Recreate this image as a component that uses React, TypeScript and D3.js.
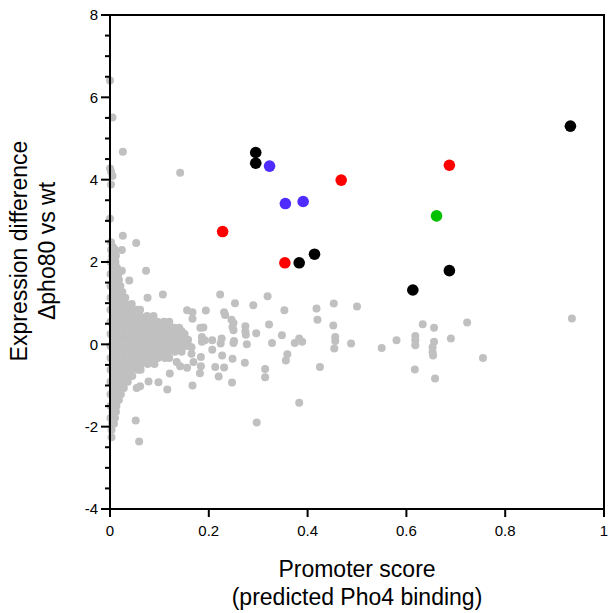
import React from "react";
import * as d3 from "d3";

// Axis ranges and tick values
const xDomain: [number, number] = [0, 1];
const yDomain: [number, number] = [-4, 8];
const xTicks = [0, 0.2, 0.4, 0.6, 0.8, 1];
const yMajorTicks = [-4, -2, 0, 2, 4, 6, 8];
const yMinorTicks = d3.range(-4, 8.001, 0.5);

// Axis titles
const yTitle = ["Expression difference", "\u0394pho80 vs wt"];
const xTitle = ["Promoter score", "(predicted Pho4 binding)"];

// Dense cluster of genes near zero promoter score, listed row by row: [y, x values]
const coreRows: [number, number[]][] = [
  [2.30, [0.002, 0.010]],
  [2.15, [0.004, 0.012]],
  [2.00, [0.001, 0.011]],
  [1.86, [0.005, 0.014]],
  [1.71, [0.001, 0.012, 0.017]],
  [1.57, [0.006, 0.018]],
  [1.42, [0.001, 0.012, 0.021]],
  [1.27, [0.006, 0.018, 0.025]],
  [1.13, [0.001, 0.013, 0.024, 0.031]],
  [0.98, [0.006, 0.019, 0.032, 0.044]],
  [0.84, [0.001, 0.013, 0.026, 0.040, 0.053, 0.061]],
  [0.69, [0.007, 0.020, 0.034, 0.047, 0.061, 0.075, 0.088]],
  [0.55, [0.001, 0.014, 0.028, 0.041, 0.055, 0.068, 0.082, 0.096, 0.109, 0.120]],
  [0.40, [0.007, 0.021, 0.034, 0.048, 0.062, 0.075, 0.089, 0.103, 0.116, 0.130, 0.140]],
  [0.25, [0.001, 0.014, 0.028, 0.042, 0.055, 0.069, 0.083, 0.096, 0.110, 0.124, 0.137, 0.151]],
  [0.11, [0.007, 0.021, 0.035, 0.048, 0.062, 0.076, 0.089, 0.103, 0.117, 0.131, 0.144, 0.158]],
  [-0.04, [0.001, 0.014, 0.028, 0.042, 0.055, 0.069, 0.083, 0.097, 0.110, 0.124, 0.138, 0.152, 0.160]],
  [-0.18, [0.007, 0.021, 0.035, 0.048, 0.062, 0.076, 0.090, 0.103, 0.117, 0.131, 0.145]],
  [-0.33, [0.001, 0.014, 0.028, 0.042, 0.056, 0.069, 0.083, 0.097, 0.111, 0.120]],
  [-0.48, [0.007, 0.021, 0.035, 0.049, 0.062, 0.076, 0.090]],
  [-0.62, [0.001, 0.014, 0.028, 0.042, 0.056, 0.062]],
  [-0.77, [0.007, 0.021, 0.035, 0.045]],
  [-0.91, [0.001, 0.014, 0.028, 0.036]],
  [-1.06, [0.007, 0.020, 0.028]],
  [-1.21, [0.001, 0.013, 0.022]],
  [-1.35, [0.006, 0.018]],
  [-1.50, [0.001, 0.013]],
  [-1.64, [0.005, 0.012]],
  [-1.79, [0.001, 0.010]],
  [-1.93, [0.004, 0.008]],
  [-2.08, [0.003]],
];

// Remaining genes: [promoter score, expression difference]
const otherGenes: [number, number][] = [
  [0.000, 6.41], [0.005, 5.51], [0.026, 4.68], [0.000, 4.27], [0.002, 4.20],
  [0.005, 4.09], [0.142, 4.17], [0.002, 3.88], [0.000, 3.05], [0.026, 2.64],
  [0.053, 2.46], [0.024, 2.29], [0.024, 1.79], [0.073, 1.79], [0.014, 1.54],
  [0.039, 1.55], [0.107, 1.21], [0.076, 1.13], [0.002, 2.48], [0.006, 2.36],
  [0.010, 2.16],
  [0.223, 1.21], [0.253, 1.00], [0.290, 0.95], [0.319, 1.17], [0.156, 0.83],
  [0.167, 0.78], [0.167, 0.62], [0.194, 0.82], [0.231, 0.78], [0.233, 0.71],
  [0.246, 0.60], [0.250, 0.52], [0.353, 0.83], [0.418, 0.87], [0.453, 0.99],
  [0.500, 0.92], [0.420, 0.60], [0.452, 0.46], [0.322, 0.48], [0.296, 0.27],
  [0.274, 0.44], [0.274, 0.31], [0.275, 0.23], [0.248, 0.42], [0.250, 0.34],
  [0.183, 0.40], [0.189, 0.41], [0.145, 0.32], [0.148, 0.18], [0.152, -0.02],
  [0.348, 0.22], [0.456, 0.18], [0.456, 0.08], [0.454, -0.10], [0.488, 0.02],
  [0.550, -0.09], [0.580, 0.10], [0.618, 0.20], [0.618, 0.10], [0.618, -0.02],
  [0.633, 0.49], [0.186, 0.18], [0.186, 0.06], [0.192, 0.10], [0.207, 0.10],
  [0.226, 0.14], [0.224, 0.02], [0.251, 0.08], [0.250, 0.03], [0.277, 0.00],
  [0.328, 0.03], [0.374, 0.03], [0.383, 0.14], [0.389, 0.06], [0.165, -0.07],
  [0.165, -0.23], [0.207, -0.13], [0.184, -0.31], [0.227, -0.27], [0.248, -0.35],
  [0.359, -0.24], [0.356, -0.39], [0.169, -0.43], [0.273, -0.45], [0.184, -0.53],
  [0.182, -0.70], [0.213, -0.55], [0.231, -0.56], [0.156, -0.57], [0.142, -0.53],
  [0.135, -0.43], [0.121, -0.71], [0.425, -0.55], [0.314, -0.60], [0.314, -0.80],
  [0.220, -0.78], [0.247, -0.93], [0.167, -1.00], [0.116, -1.10], [0.098, -0.92],
  [0.078, -0.90], [0.061, -1.02], [0.054, -1.06], [0.617, -0.61], [0.383, -1.42],
  [0.656, 0.40], [0.723, 0.53], [0.935, 0.63], [0.656, 0.06], [0.653, -0.07],
  [0.653, -0.19], [0.654, -0.27], [0.690, 0.14], [0.755, -0.33], [0.658, -0.83],
  [0.052, -1.85], [0.059, -2.36], [0.003, -2.26], [0.297, -1.90],
];

// Highlighted gene groups
const blackGenes: [number, number][] = [
  [0.295, 4.66], [0.295, 4.40], [0.383, 1.98], [0.414, 2.19],
  [0.613, 1.32], [0.687, 1.79], [0.932, 5.30],
];
const redGenes: [number, number][] = [
  [0.228, 2.74], [0.354, 1.98], [0.468, 3.99], [0.687, 4.35],
];
const blueGenes: [number, number][] = [
  [0.323, 4.33], [0.355, 3.42], [0.391, 3.47],
];
const greenGenes: [number, number][] = [[0.661, 3.12]];

const W = 608;
const H = 613;
const left = 110;
const right = 604;
const top = 15;
const bottom = 509;
const FONT = "'Liberation Sans', Arial, Helvetica, sans-serif";

export default function App() {
  const x = d3.scaleLinear().domain(xDomain).range([left, right]);
  const y = d3.scaleLinear().domain(yDomain).range([bottom, top]);

  const corePoints: [number, number][] = coreRows.flatMap(([yv, xs]) =>
    xs.map((xv) => [xv, yv] as [number, number])
  );
  const grayPoints = [...corePoints, ...otherGenes];

  const groups: { data: [number, number][]; color: string }[] = [
    { data: blackGenes, color: "#000000" },
    { data: redGenes, color: "#ff0000" },
    { data: blueGenes, color: "#4f2bff" },
    { data: greenGenes, color: "#00c000" },
  ];

  const isMajor = (v: number) => yMajorTicks.some((m) => Math.abs(m - v) < 1e-6);

  return (
    <svg
      width={W}
      height={H}
      style={{ position: "absolute", left: 0, top: 0, background: "#fff" }}
      fontFamily={FONT}
    >
      {/* gray background genes */}
      <g fill="#c0c0c0">
        {grayPoints.map(([px, py], i) => (
          <circle key={i} cx={x(px)} cy={y(py)} r={4} />
        ))}
      </g>

      {/* highlighted genes */}
      {groups.map((g, gi) => (
        <g key={gi} fill={g.color}>
          {g.data.map(([px, py], i) => (
            <circle key={i} cx={x(px)} cy={y(py)} r={5.8} />
          ))}
        </g>
      ))}

      {/* frame */}
      <g stroke="#000" strokeWidth={2} fill="none">
        <line x1={left} x2={right} y1={top} y2={top} />
        <line x1={left} x2={right} y1={bottom} y2={bottom} />
        <line x1={left} x2={left} y1={top - 1} y2={bottom + 1} />
        <line x1={right} x2={right} y1={top - 1} y2={bottom + 1} />
      </g>

      {/* y ticks */}
      <g stroke="#000" strokeWidth={2}>
        {yMinorTicks.map((v, i) => (
          <line
            key={i}
            x1={left - (isMajor(v) ? 9 : 5)}
            x2={left}
            y1={y(v)}
            y2={y(v)}
          />
        ))}
      </g>
      <g fontSize={15} textAnchor="end" fill="#000">
        {yMajorTicks.map((v) => (
          <text key={v} x={left - 12} y={y(v) + 5.4}>
            {v}
          </text>
        ))}
      </g>

      {/* x ticks */}
      <g stroke="#000" strokeWidth={2}>
        {xTicks.map((v) => (
          <line key={v} x1={x(v)} x2={x(v)} y1={bottom} y2={bottom + 8} />
        ))}
      </g>
      <g fontSize={15} textAnchor="middle" fill="#000">
        {xTicks.map((v) => (
          <text key={v} x={x(v)} y={535.5}>
            {v}
          </text>
        ))}
      </g>

      {/* axis titles */}
      <g fontSize={23} textAnchor="middle" fill="#000">
        <text transform={`translate(27, 251) rotate(-90)`}>{yTitle[0]}</text>
        <text transform={`translate(54.5, 251) rotate(-90)`}>{yTitle[1]}</text>
        <text x={357} y={577}>{xTitle[0]}</text>
        <text x={357} y={605}>{xTitle[1]}</text>
      </g>
    </svg>
  );
}
